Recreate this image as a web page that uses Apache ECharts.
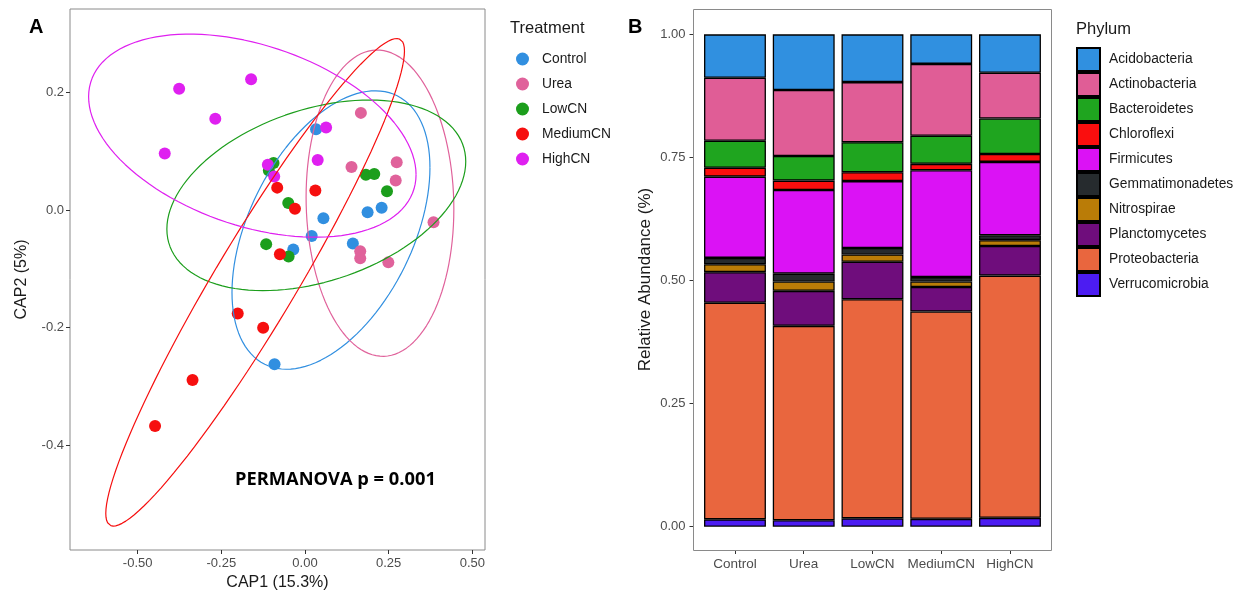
<!DOCTYPE html>
<html>
<head>
<meta charset="utf-8">
<script src="https://cdn.jsdelivr.net/npm/echarts@6/dist/echarts.min.js"></script>
<style>
  html, body { margin: 0; padding: 0; background: #ffffff; }
  #chart { width: 1243px; height: 596px; }
</style>
</head>
<body>
<div id="chart"></div>
<script>
// ---------- Panel A: CAP ordination scores ----------
const treatments = ['Control', 'Urea', 'LowCN', 'MediumCN', 'HighCN'];
const treatmentColors = ['#318fe0', '#e0629b', '#1c9e1c', '#f60f0f', '#df20f0'];

const controlScores = [[0.033, 0.137], [0.055, -0.014], [0.187, -0.004], [0.229, 0.004],
                       [0.020, -0.044], [0.143, -0.057], [-0.035, -0.067], [-0.091, -0.262]];
const ureaScores = [[0.167, 0.165], [0.139, 0.073], [0.274, 0.081], [0.271, 0.050],
                    [0.384, -0.021], [0.165, -0.070], [0.165, -0.082], [0.249, -0.089]];
const lowCNScores = [[-0.094, 0.080], [-0.108, 0.067], [0.182, 0.060], [0.207, 0.061],
                     [0.245, 0.032], [-0.050, 0.012], [-0.116, -0.058], [-0.049, -0.079]];
const mediumCNScores = [[-0.083, 0.038], [0.031, 0.033], [-0.030, 0.002], [-0.075, -0.075],
                        [-0.201, -0.176], [-0.125, -0.200], [-0.336, -0.289], [-0.448, -0.367]];
const highCNScores = [[-0.376, 0.206], [-0.161, 0.222], [-0.268, 0.155], [-0.419, 0.096],
                      [0.063, 0.140], [0.038, 0.085], [-0.111, 0.077], [-0.092, 0.057]];
const scoreGroups = [controlScores, ureaScores, lowCNScores, mediumCNScores, highCNScores];

const cap1Ticks = [-0.5, -0.25, 0, 0.25, 0.5];
const cap2Ticks = [-0.4, -0.2, 0, 0.2];

// ---------- Panel B: relative abundance by phylum ----------
const phyla = ['Acidobacteria', 'Actinobacteria', 'Bacteroidetes', 'Chloroflexi', 'Firmicutes',
               'Gemmatimonadetes', 'Nitrospirae', 'Planctomycetes', 'Proteobacteria', 'Verrucomicrobia'];
const phylumColors = ['#3090e0', '#e05d96', '#1fa51f', '#fa0e0e', '#db12f5',
                      '#262b2e', '#ba7c07', '#6f0d7c', '#e9663e', '#4c1cf2'];
// values per treatment (Control, Urea, LowCN, MediumCN, HighCN)
const acidobacteria    = [0.088, 0.113, 0.097, 0.060, 0.078];
const actinobacteria   = [0.128, 0.134, 0.122, 0.146, 0.093];
const bacteroidetes    = [0.055, 0.050, 0.061, 0.057, 0.072];
const chloroflexi      = [0.018, 0.019, 0.018, 0.013, 0.016];
const firmicutes       = [0.165, 0.170, 0.136, 0.217, 0.149];
const gemmatimonadetes = [0.013, 0.016, 0.013, 0.009, 0.010];
const nitrospirae      = [0.016, 0.019, 0.015, 0.011, 0.012];
const planctomycetes   = [0.062, 0.071, 0.076, 0.050, 0.060];
const proteobacteria   = [0.440, 0.395, 0.445, 0.421, 0.492];
const verrucomicrobia  = [0.015, 0.013, 0.017, 0.016, 0.018];
const phylumValues = [acidobacteria, actinobacteria, bacteroidetes, chloroflexi, firmicutes,
                      gemmatimonadetes, nitrospirae, planctomycetes, proteobacteria, verrucomicrobia];
const abundanceTicks = [0, 0.25, 0.5, 0.75, 1];

// ---------- 95% t-ellipse (robust multivariate t fit, like stat_ellipse) ----------
const F_095_2_7 = 4.737414; // qf(0.95, 2, n - 1) for n = 8
function covTrob(pts, nu) {
  const n = pts.length, p = 2;
  const sum = a => a.reduce((s, v) => s + v, 0);
  let loc = [sum(pts.map(q => q[0])) / n, sum(pts.map(q => q[1])) / n];
  let w = new Array(n).fill(1);
  let X = [];
  for (let it = 0; it < 25; it++) {
    const w0 = w.slice();
    X = pts.map(q => [q[0] - loc[0], q[1] - loc[1]]);
    const sw = sum(w);
    let a = 0, b = 0, c = 0;
    for (let i = 0; i < n; i++) {
      a += w[i] * X[i][0] * X[i][0];
      b += w[i] * X[i][0] * X[i][1];
      c += w[i] * X[i][1] * X[i][1];
    }
    a /= sw; b /= sw; c /= sw;
    const det = a * c - b * b;
    const Q = X.map(v => (c * v[0] * v[0] - 2 * b * v[0] * v[1] + a * v[1] * v[1]) / det);
    w = Q.map(q => (nu + p) / (nu + q));
    const sw2 = sum(w);
    loc = [sum(pts.map((q, i) => w[i] * q[0])) / sw2, sum(pts.map((q, i) => w[i] * q[1])) / sw2];
    if (w.every((v, i) => Math.abs(v - w0[i]) < 0.01)) break;
  }
  let a = 0, b = 0, c = 0;
  for (let i = 0; i < n; i++) {
    a += w[i] * X[i][0] * X[i][0];
    b += w[i] * X[i][0] * X[i][1];
    c += w[i] * X[i][1] * X[i][1];
  }
  return { center: loc, cov: [a / n, b / n, c / n] };
}
function ellipsePath(pts) {
  const fit = covTrob(pts, 5);
  const [a, b, c] = fit.cov;
  const r11 = Math.sqrt(a), r12 = b / r11, r22 = Math.sqrt(c - r12 * r12);
  const radius = Math.sqrt(2 * F_095_2_7);
  const out = [];
  const seg = 120;
  for (let k = 0; k <= seg; k++) {
    const t = 2 * Math.PI * k / seg;
    const u = Math.cos(t), v = Math.sin(t);
    out.push([fit.center[0] + radius * u * r11, fit.center[1] + radius * (u * r12 + v * r22)]);
  }
  return out;
}

const FONT = '"Liberation Sans", Arial, sans-serif';
const TICK_GREY = '#4d4d4d';
const chart = echarts.init(document.getElementById('chart'), null, { renderer: 'canvas' });

const series = [];
scoreGroups.forEach((pts, i) => {
  series.push({
    name: treatments[i], type: 'scatter', xAxisIndex: 0, yAxisIndex: 0,
    data: pts, symbolSize: 12, itemStyle: { color: treatmentColors[i], opacity: 1 },
    z: 3, emphasis: { disabled: true }
  });
});
scoreGroups.forEach((pts, i) => {
  series.push({
    name: treatments[i] + ' ellipse', type: 'line', xAxisIndex: 0, yAxisIndex: 0,
    data: ellipsePath(pts), showSymbol: false, symbol: 'none', silent: true,
    lineStyle: { color: treatmentColors[i], width: 1.2 }, z: 4
  });
});
// stacked bars, bottom of stack = last phylum
for (let j = phyla.length - 1; j >= 0; j--) {
  series.push({
    name: phyla[j], type: 'bar', xAxisIndex: 1, yAxisIndex: 1, stack: 'phylum',
    data: phylumValues[j], barWidth: 61.9,
    itemStyle: { color: phylumColors[j], borderColor: '#000000', borderWidth: 1.3 },
    emphasis: { disabled: true }
  });
}

const tickStyle = { color: '#333333', width: 1 };
const option = {
  backgroundColor: '#ffffff',
  animation: false,
  textStyle: { fontFamily: FONT },
  grid: [
    { left: 70, top: 9, width: 415, height: 541, show: true, borderColor: '#8a8a8a', borderWidth: 1, backgroundColor: 'transparent' },
    { left: 700.6, top: 9, width: 343.75, height: 541 }
  ],
  xAxis: [
    {
      type: 'value', gridIndex: 0, min: -0.7021, max: 0.5378,
      splitLine: { show: false }, axisLine: { show: false, onZero: false },
      axisTick: { show: true, length: 4, lineStyle: tickStyle, customValues: cap1Ticks },
      axisLabel: { color: TICK_GREY, fontSize: 13, margin: 7, customValues: cap1Ticks,
                   formatter: v => v.toFixed(2) },
      name: 'CAP1 (15.3%)', nameLocation: 'middle', nameGap: 25,
      nameTextStyle: { color: '#1a1a1a', fontSize: 16 }
    },
    {
      type: 'category', gridIndex: 1, data: treatments, boundaryGap: true,
      axisLine: { show: false, onZero: false },
      axisTick: { show: true, alignWithLabel: true, length: 4, lineStyle: tickStyle },
      axisLabel: { color: TICK_GREY, fontSize: 13.5, margin: 7, interval: 0 }
    }
  ],
  yAxis: [
    {
      type: 'value', gridIndex: 0, min: -0.5777, max: 0.3415,
      splitLine: { show: false }, axisLine: { show: false, onZero: false },
      axisTick: { show: true, length: 4, lineStyle: tickStyle, customValues: cap2Ticks },
      axisLabel: { color: TICK_GREY, fontSize: 13, margin: 6, customValues: cap2Ticks,
                   formatter: v => v.toFixed(1) },
      name: 'CAP2 (5%)', nameLocation: 'middle', nameGap: 40,
      nameTextStyle: { color: '#1a1a1a', fontSize: 16 }
    },
    {
      type: 'value', gridIndex: 1, min: -0.0473, max: 1.0515, offset: 7.1,
      splitLine: { show: false }, axisLine: { show: false, onZero: false },
      axisTick: { show: true, length: 4, lineStyle: tickStyle, customValues: abundanceTicks },
      axisLabel: { color: TICK_GREY, fontSize: 13, margin: 8, customValues: abundanceTicks,
                   formatter: v => v.toFixed(2) },
      name: 'Relative Abundance (%)', nameLocation: 'middle', nameGap: 40,
      nameTextStyle: { color: '#1a1a1a', fontSize: 17 }
    }
  ],
  legend: [
    {
      data: treatments, orient: 'vertical', left: 516, top: 52, itemGap: 11, padding: 0,
      icon: 'circle', itemWidth: 13, itemHeight: 13,
      textStyle: { color: '#1a1a1a', fontSize: 13.8, fontFamily: FONT, padding: [0, 0, 0, 8] },
      selectedMode: false
    },
    {
      data: phyla, orient: 'vertical', left: 1076, top: 47, itemGap: 0, padding: 0,
      icon: 'rect', itemWidth: 23, itemHeight: 23,
      textStyle: { color: '#1a1a1a', fontSize: 13.8, fontFamily: FONT, padding: [0, 0, 0, 4] },
      selectedMode: false
    }
  ],
  graphic: [
    { type: 'rect', shape: { x: 693.5, y: 9.5, width: 358, height: 541 }, silent: true,
      style: { fill: 'none', stroke: '#8a8a8a', lineWidth: 1 }, z: 100 },
    { type: 'text', left: 29, top: 17, style: { text: 'A', font: 'bold 20px ' + FONT, fill: '#000' } },
    { type: 'text', left: 628, top: 17, style: { text: 'B', font: 'bold 20px ' + FONT, fill: '#000' } },
    { type: 'text', left: 510, top: 20, style: { text: 'Treatment', font: '16.5px ' + FONT, fill: '#1a1a1a' } },
    { type: 'text', left: 1076, top: 21, style: { text: 'Phylum', font: '16.5px ' + FONT, fill: '#1a1a1a' } },
    { type: 'text', left: 235, top: 471, style: { text: 'PERMANOVA p = 0.001', font: 'bold 18.3px "Open Sans", ' + FONT, fill: '#000' } }
  ],
  series: series
};
chart.setOption(option);
</script>
</body>
</html>
